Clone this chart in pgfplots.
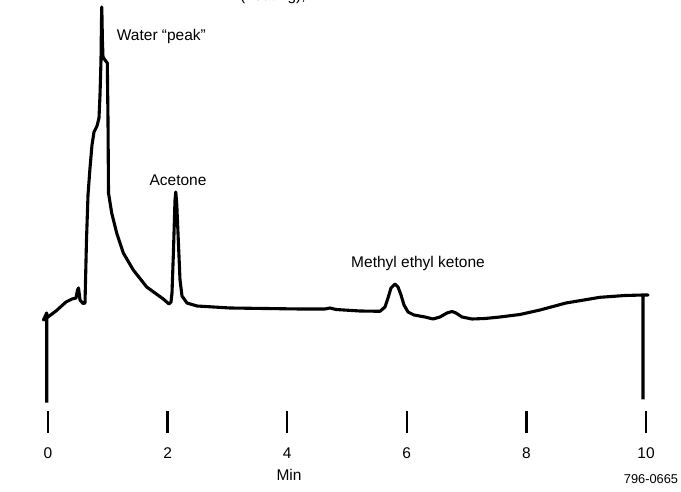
\documentclass[border=0pt]{standalone}
\usepackage{fontspec}
\setmainfont{Liberation Sans}
\usepackage{pgfplots}
\pgfplotsset{compat=1.18}
\begin{document}
\begin{tikzpicture}[font=\fontsize{15.5}{18}\selectfont]
\begin{axis}[
  scale only axis,
  width=681pt, height=411pt,
  xmin=-0.8027, xmax=10.5853,
  ymin=0, ymax=411,
  clip=false,
  axis y line=none,
  axis x line*=bottom,
  x axis line style={draw=none},
  xtick={0,2,4,6,8,10},
  tick align=outside,
  major tick length=21.6pt,
  xtick style={line width=2.4pt, black},
  xticklabel style={anchor=center, yshift=-20.5pt, text height=11pt, text depth=0pt},
  /pgf/number format/assume math mode=true,
]
\addplot[black, line width=3.1pt, line join=round, line cap=butt] coordinates {
(-0.0217,8.3) (-0.0217,98) (-0.0753,91) (0,94) (0.1338,100) (0.3010,109)
(0.4013,112) (0.4682,113) (0.4933,121) (0.5100,123) (0.5351,111) (0.5853,107.5)
(0.6187,108) (0.6438,171) (0.6689,216) (0.7023,243) (0.7358,266) (0.7692,279)
(0.8194,285) (0.8528,293) (0.8696,316) (0.8863,351) (0.8946,391) (0.8997,404)
(0.9097,371) (0.9197,354) (0.9532,351) (0.9916,348) (1.0033,291) (1.0117,218)
(1.0652,198) (1.1488,178) (1.2592,158) (1.4264,141) (1.6505,124) (1.9281,112)
(2.0234,107) (2.0569,109) (2.0736,118) (2.0987,161) (2.1237,211) (2.1371,219)
(2.1538,206) (2.1789,171) (2.2074,131) (2.2408,115) (2.3244,108) (2.4916,105)
(3.0435,103) (4.2140,102) (4.6321,102) (4.7157,103) (4.8161,101.5) (5.2174,100)
(5.5518,99.7) (5.6355,104) (5.6856,113) (5.7358,123) (5.8027,127) (5.8528,124)
(5.9030,116) (5.9532,106) (6.0201,99) (6.1204,96) (6.3043,94) (6.4381,92)
(6.5552,94) (6.6722,98) (6.7559,99.5) (6.8227,98) (6.9231,94) (7.0903,92)
(7.3077,92.5) (7.5585,94) (7.8930,96.5) (8.2274,101) (8.6622,108) (9.2308,113.7)
(9.6488,115.5) (9.9498,116) (10.0334,116) (9.9498,116) (9.9498,11.7)
};
\node[anchor=west, inner sep=0pt] at (axis cs:1.1488,374.3) {Water “peak”};
\node[inner sep=0pt] at (axis cs:2.1739,231) {Acetone};
\node[inner sep=0pt] at (axis cs:6.1873,147.7) {Methyl ethyl ketone};
\node[inner sep=0pt] at (axis cs:4.030,-64) {Min};
\node[inner sep=0pt, font=\fontsize{12.8}{15}\selectfont] at (axis cs:10.0836,-68) {796-0665};
\node[anchor=base west, inner sep=0pt] at (axis cs:3.2107,410) {(heating),};
\end{axis}
\pgfresetboundingbox
\path (current axis.south west) ++(0,-81pt) rectangle (current axis.north east);
\end{tikzpicture}
\end{document}
